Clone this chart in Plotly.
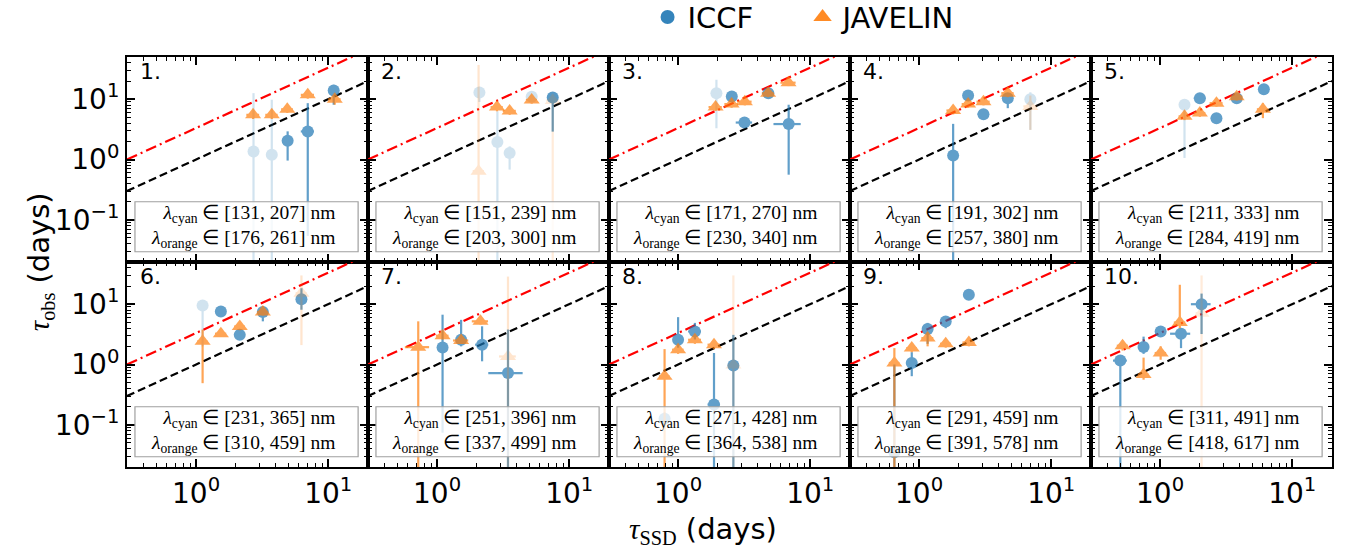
import plotly.graph_objects as go
from plotly.subplots import make_subplots

# ---------------- data ----------------
PANEL_LABELS = ["1.", "2.", "3.", "4.", "5.", "6.", "7.", "8.", "9.", "10."]
CYAN_RANGES = [(131, 207), (151, 239), (171, 270), (191, 302), (211, 333),
               (231, 365), (251, 396), (271, 428), (291, 459), (311, 491)]
ORANGE_RANGES = [(176, 261), (203, 300), (230, 340), (257, 380), (284, 419),
                 (310, 459), (337, 499), (364, 538), (391, 578), (418, 617)]

# ICCF (blue circles): per panel
ICCF_X = [[2.72, 3.74, 4.93, 7.0, 11.0],
          [2.09, 2.86, 3.54, 5.2, 7.5],
          [1.95, 2.55, 3.18, 4.82, 6.87],
          [1.81, 2.35, 3.07, 4.69, 6.95],
          [1.53, 2.0, 2.67, 3.8, 6.1],
          [1.12, 1.54, 2.14, 3.2, 6.27],
          [1.1, 1.52, 2.19, 3.44],
          [0.79, 1.0, 1.34, 1.87, 2.62],
          [0.65, 0.88, 1.16, 1.59, 2.38],
          [0.5, 0.75, 1.01, 1.44, 2.06]]
ICCF_Y = [[1.36, 1.2, 2.05, 2.92, 13.9],
          [12.9, 1.95, 1.28, 11.0, 10.7],
          [12.5, 11.1, 4.1, 12.5, 3.87],
          [1.16, 11.5, 5.65, 10.4, 10.0],
          [8.1, 10.4, 4.85, 10.4, 14.6],
          [9.5, 7.6, 3.1, 7.4, 12.1],
          [1.92, 2.57, 2.13, 0.72],
          [0.126, 2.57, 3.53, 0.217, 0.96],
          [0.035, 1.06, 3.87, 5.17, 14.3],
          [1.16, 1.95, 3.53, 3.24, 10.0]]
ICCF_YLO = [[0.01, 0.01, 0.96, 0.054, 8.1],
            [9.0, 0.01, 0.68, 9.0, 2.9],
            [3.3, 9.5, 3.6, 11.0, 0.56],
            [0.01, 10.0, 5.0, 7.1, 3.1],
            [1.06, 9.3, 4.4, 9.3, 12.3],
            [2.0, 6.8, 2.7, 5.2, 8.1],
            [0.074, 2.0, 1.13, 0.01],
            [0.1, 1.9, 2.6, 0.01, 0.01],
            [0.01, 0.64, 2.2, 4.0, 13.0],
            [0.01, 1.5, 2.9, 1.87, 3.2]]
ICCF_YHI = [[12.6, 9.8, 2.93, 8.6, 17.3],
            [16.0, 6.3, 1.65, 13.5, 13.0],
            [21.0, 13.0, 4.7, 14.0, 8.1],
            [3.9, 13.0, 6.4, 12.0, 13.0],
            [10.0, 11.5, 5.4, 11.5, 17.0],
            [11.0, 8.5, 3.6, 8.5, 18.4],
            [6.7, 5.5, 4.3, 3.8],
            [0.16, 6.1, 4.9, 1.55, 3.1],
            [1.0, 1.6, 4.9, 6.3, 15.5],
            [1.4, 2.9, 4.3, 3.8, 15.0]]
ICCF_XERR = [[0.2, 0.3, 0.3, 0.8, 1.0],
             [0.15, 0.2, 0.3, 0.4, 0.7],
             [0.15, 0.2, 0.45, 0.5, 1.6],
             [0.1, 0.2, 0.3, 0.4, 0.6],
             [0.1, 0.2, 0.25, 0.3, 0.4],
             [0.1, 0.12, 0.2, 0.3, 0.4],
             [0.08, 0.12, 0.25, 1.0],
             [0.06, 0.08, 0.15, 0.2, 0.2],
             [0.05, 0.06, 0.1, 0.15, 0.2],
             [0.06, 0.05, 0.08, 0.25, 0.35]]
ICCF_ALPHA = [[0.2, 0.2, 0.7, 0.7, 0.7],
              [0.2, 0.2, 0.2, 0.2, 0.75],
              [0.2, 0.7, 0.7, 0.7, 0.7],
              [0.7, 0.7, 0.7, 0.7, 0.2],
              [0.2, 0.7, 0.7, 0.7, 0.7],
              [0.2, 0.7, 0.7, 0.7, 0.7],
              [0.7, 0.7, 0.7, 0.7],
              [0.7, 0.7, 0.7, 0.7, 0.7],
              [0.7, 0.7, 0.7, 0.7, 0.7],
              [0.7, 0.7, 0.7, 0.7, 0.7]]

# JAVELIN (orange triangles): per panel
JAV_X = [[2.7, 3.74, 4.9, 7.0, 11.2],
         [2.06, 2.84, 3.54, 5.2, 7.5],
         [1.92, 2.54, 3.2, 4.8, 6.85],
         [1.81, 2.35, 3.07, 4.69, 6.95],
         [1.53, 2.0, 2.67, 3.8, 6.0],
         [1.12, 1.54, 2.14, 3.2, 6.27],
         [0.72, 1.1, 1.52, 2.13, 3.44],
         [0.79, 1.0, 1.34, 1.87, 2.62],
         [0.65, 0.88, 1.16, 1.59, 2.38],
         [0.52, 0.75, 1.01, 1.41, 2.06]]
JAV_Y = [[5.5, 5.5, 6.8, 11.8, 10.0],
         [0.64, 7.4, 6.4, 9.7, 9.5],
         [7.4, 8.3, 9.1, 12.5, 18.8],
         [6.5, 8.3, 9.1, 12.6, 7.6],
         [5.2, 5.9, 8.6, 11.0, 6.8],
         [2.42, 3.24, 4.27, 7.4, 15.2],
         [1.94, 3.0, 2.5, 5.2, 1.36],
         [0.64, 1.76, 2.57, 2.13, 0.98],
         [1.06, 1.87, 2.74, 2.21, 2.32],
         [2.05, 0.68, 1.55, 4.97, 7.1]]
JAV_YLO = [[4.7, 4.7, 5.9, 10.2, 8.1],
           [0.01, 6.3, 5.5, 8.4, 0.01],
           [6.4, 7.2, 7.9, 10.8, 16.5],
           [5.6, 7.2, 7.9, 10.8, 3.1],
           [4.5, 5.1, 7.5, 9.5, 4.85],
           [0.49, 2.9, 3.7, 6.5, 2.1],
           [0.01, 2.6, 2.2, 4.6, 0.01],
           [0.01, 1.5, 2.2, 1.8, 0.01],
           [0.01, 1.6, 2.0, 1.9, 2.0],
           [1.7, 0.56, 1.2, 4.0, 0.01]]
JAV_YHI = [[6.3, 6.3, 7.8, 13.5, 12.0],
           [37.0, 8.6, 7.4, 11.2, 12.0],
           [8.5, 9.6, 10.4, 14.4, 21.5],
           [7.5, 9.6, 10.4, 14.5, 11.5],
           [6.0, 6.8, 9.9, 12.7, 8.6],
           [3.8, 3.6, 5.0, 8.5, 30.0],
           [5.2, 3.5, 2.9, 5.8, 28.7],
           [1.8, 2.1, 3.0, 2.5, 30.0],
           [1.87, 2.2, 3.2, 2.6, 2.7],
           [2.5, 1.3, 2.0, 21.0, 30.0]]
JAV_XERR = [[0.3, 0.4, 0.5, 0.8, 1.2],
            [0.2, 0.3, 0.4, 0.5, 0.8],
            [0.22, 0.3, 0.4, 0.5, 0.9],
            [0.2, 0.25, 0.35, 0.5, 0.8],
            [0.15, 0.2, 0.3, 0.4, 0.6],
            [0.1, 0.15, 0.2, 0.3, 0.6],
            [0.15, 0.12, 0.2, 0.3, 0.5],
            [0.07, 0.1, 0.15, 0.2, 0.25],
            [0.06, 0.08, 0.12, 0.15, 0.25],
            [0.05, 0.07, 0.1, 0.14, 0.2]]
JAV_ALPHA = [[0.7, 0.7, 0.7, 0.7, 0.7],
             [0.2, 0.7, 0.7, 0.7, 0.15],
             [0.7, 0.7, 0.7, 0.7, 0.7],
             [0.7, 0.7, 0.7, 0.7, 0.2],
             [0.7, 0.7, 0.7, 0.7, 0.7],
             [0.7, 0.7, 0.7, 0.7, 0.2],
             [0.7, 0.7, 0.7, 0.7, 0.2],
             [0.7, 0.7, 0.7, 0.7, 0.15],
             [0.7, 0.7, 0.7, 0.7, 0.7],
             [0.7, 0.7, 0.7, 0.7, 0.15]]

LINE_X = [0.3, 20.0]
RED_FACTOR = 3.33

X_TICKVALS = [1, 10]
X_TICKTEXT = ["10<sup>0</sup>", "10<sup>1</sup>"]
Y_TICKVALS = [0.1, 1, 10]
Y_TICKTEXT = ["10<sup>\u22121</sup>", "10<sup>0</sup>", "10<sup>1</sup>"]
MINOR_VALS = [m * 10.0 ** e for e in range(-2, 2) for m in range(2, 10)]

BLUE = "#1f77b4"
ORANGE = "#ff7f0e"
SANS = "DejaVu Sans"
SERIF = "Liberation Serif"

# ---------------- figure ----------------
fig = make_subplots(rows=2, cols=5, shared_xaxes=True, shared_yaxes=True,
                    horizontal_spacing=0, vertical_spacing=0)


def add_point(row, col, x, y, ylo, yhi, xerr, alpha, color, symbol, size):
    fig.add_trace(go.Scatter(
        x=[x], y=[y], mode="markers",
        marker=dict(color=color, symbol=symbol, size=size, line=dict(width=0)),
        error_y=dict(type="data", symmetric=False, array=[yhi - y],
                     arrayminus=[y - ylo], color=color, thickness=2.2, width=0),
        error_x=dict(type="data", symmetric=True, array=[xerr],
                     color=color, thickness=2.2, width=0),
        opacity=alpha, showlegend=False, hoverinfo="skip"), row=row, col=col)


for p in range(10):
    row, col = p // 5 + 1, p % 5 + 1
    # reference lines
    fig.add_trace(go.Scatter(x=LINE_X, y=LINE_X, mode="lines",
                             line=dict(color="black", width=2.2, dash="8px,4px"),
                             showlegend=False, hoverinfo="skip"), row=row, col=col)
    fig.add_trace(go.Scatter(x=LINE_X, y=[v * RED_FACTOR for v in LINE_X], mode="lines",
                             line=dict(color="red", width=2.2, dash="11px,4px,2px,4px"),
                             showlegend=False, hoverinfo="skip"), row=row, col=col)
    for i in range(len(ICCF_X[p])):
        add_point(row, col, ICCF_X[p][i], ICCF_Y[p][i], ICCF_YLO[p][i], ICCF_YHI[p][i],
                  ICCF_XERR[p][i], ICCF_ALPHA[p][i], BLUE, "circle", 12)
    for i in range(len(JAV_X[p])):
        add_point(row, col, JAV_X[p][i], JAV_Y[p][i], JAV_YLO[p][i], JAV_YHI[p][i],
                  JAV_XERR[p][i], JAV_ALPHA[p][i], ORANGE, "triangle-up", 14)

    n = "" if p == 0 else str(p + 1)
    # legend box
    fig.add_shape(type="rect", xref=f"x{n} domain", yref=f"y{n} domain",
                  x0=0.033, x1=0.959, y0=0.05, y1=0.294,
                  fillcolor="rgba(255,255,255,0.8)",
                  line=dict(color="#a0a0a0", width=1.2), layer="above")
    c0, c1 = CYAN_RANGES[p]
    o0, o1 = ORANGE_RANGES[p]
    txt = (f"<i>λ</i><sub>cyan</sub> ∈ [{c0}, {c1}] nm<br>"
           f"<i>λ</i><sub>orange</sub> ∈ [{o0}, {o1}] nm")
    fig.add_annotation(xref=f"x{n} domain", yref=f"y{n} domain",
                       x=0.87, y=0.172, xanchor="right", yanchor="middle",
                       text=txt, showarrow=False, align="right",
                       font=dict(family=SERIF, size=19.5, color="black"))
    fig.add_annotation(xref=f"x{n} domain", yref=f"y{n} domain",
                       x=0.045, y=1.0, xanchor="left", yanchor="top",
                       text=PANEL_LABELS[p], showarrow=False,
                       font=dict(family=SANS, size=22, color="black"))

# legend entries
fig.add_trace(go.Scatter(x=[None], y=[None], mode="markers", name="ICCF",
                         marker=dict(color=BLUE, symbol="circle", size=14),
                         opacity=0.9), row=1, col=1)
fig.add_trace(go.Scatter(x=[None], y=[None], mode="markers", name="JAVELIN",
                         marker=dict(color=ORANGE, symbol="triangle-up", size=16),
                         opacity=0.9), row=1, col=1)

axis_common = dict(type="log", showline=True, linecolor="black", linewidth=2,
                   mirror="allticks", ticks="inside", ticklen=8, tickwidth=1.5,
                   tickcolor="black", showgrid=False, zeroline=False,
                   tickfont=dict(family=SANS, size=28, color="black"),
                   minor=dict(ticks="inside", ticklen=4, tickwidth=1, tickcolor="black",
                              tickmode="array", tickvals=MINOR_VALS, showgrid=False))
fig.update_xaxes(range=[-0.5229, 1.301], tickmode="array",
                 tickvals=X_TICKVALS, ticktext=X_TICKTEXT, **axis_common)
fig.update_yaxes(range=[-1.7, 1.7], tickmode="array",
                 tickvals=Y_TICKVALS, ticktext=Y_TICKTEXT, **axis_common)

fig.add_annotation(xref="paper", yref="paper", x=0.478, y=-0.155,
                   xanchor="center", yanchor="middle", showarrow=False,
                   text=f'<span style="font-family:{SERIF}"><i>τ</i><sub>SSD</sub></span> (days)',
                   font=dict(family=SANS, size=29, color="black"))
fig.add_annotation(xref="paper", yref="paper", x=-0.072, y=0.5,
                   xanchor="center", yanchor="middle", showarrow=False, textangle=-90,
                   text=f'<span style="font-family:{SERIF}"><i>τ</i><sub>obs</sub></span> (days)',
                   font=dict(family=SANS, size=29, color="black"))

fig.update_layout(
    width=1352, height=555,
    margin=dict(l=127, r=20, t=57, b=88),
    paper_bgcolor="white", plot_bgcolor="white",
    showlegend=True,
    legend=dict(orientation="h", xref="paper", yref="container",
                x=0.432, y=0.969, xanchor="left", yanchor="middle",
                entrywidth=110, entrywidthmode="pixels",
                font=dict(family=SANS, size=29, color="black"),
                bgcolor="rgba(0,0,0,0)", itemsizing="trace"),
)

fig.write_html("out.html")
